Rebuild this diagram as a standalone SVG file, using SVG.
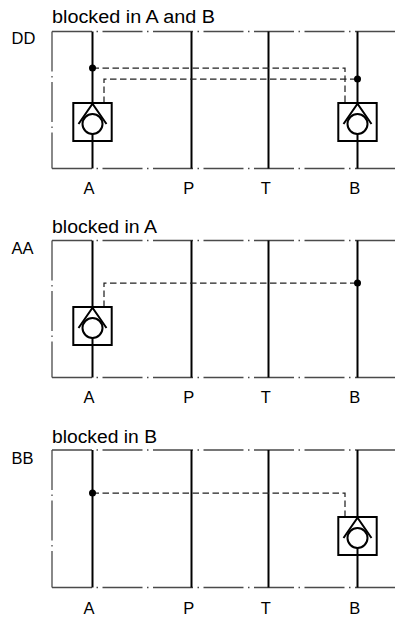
<svg xmlns="http://www.w3.org/2000/svg" xmlns:xlink="http://www.w3.org/1999/xlink" width="398" height="617" viewBox="0 0 398 617">
<style>
.frame{fill:none;stroke:#4a4a4a;stroke-width:1.3;stroke-dasharray:40 4.5 1.5 4.5}
.port{fill:none;stroke:#000;stroke-width:2}
.pilot{fill:none;stroke:#222;stroke-width:1.25;stroke-dasharray:6.5 3.5}
.dot{fill:#000}
.t{font-family:"Liberation Sans",Arial,Helvetica,sans-serif;fill:#000}
.title{font-size:18px}
.lab{font-size:16.5px;text-anchor:middle}
.side{font-size:16.5px}
</style>
<defs>
<g id="valve">
<rect x="-19.2" y="0" width="38.4" height="38" fill="#fff" stroke="#000" stroke-width="2"/>
<path d="M-14 21 L0 0.8 L14 21" fill="none" stroke="#000" stroke-width="2"/>
<circle cx="0" cy="21" r="10" fill="none" stroke="#000" stroke-width="2"/>
<line x1="0" y1="31" x2="0" y2="38" stroke="#000" stroke-width="2"/>
</g>
</defs>
<rect width="398" height="617" fill="#fff"/>

<!-- Section DD -->
<g id="section-DD">
<text class="t title" x="52" y="22.5" textLength="163" lengthAdjust="spacingAndGlyphs">blocked in A and B</text>
<text class="t side" x="11.5" y="44.3">DD</text>
<g id="frame-DD">
<line class="frame" x1="52" y1="31.5" x2="52" y2="168.5"/>
<line class="frame" x1="52" y1="31.5" x2="398" y2="31.5"/>
<line class="frame" x1="52" y1="168.5" x2="398" y2="168.5"/>
</g>
<g id="ports-DD">
<line class="port" x1="92.5" y1="31.5" x2="92.5" y2="168.5"/>
<line class="port" x1="191.5" y1="31.5" x2="191.5" y2="168.5"/>
<line class="port" x1="268.5" y1="31.5" x2="268.5" y2="168.5"/>
<line class="port" x1="357.5" y1="31.5" x2="357.5" y2="168.5"/>
</g>
<g id="connectors-DD">
<path class="pilot" d="M92.5 68 H345 V103"/>
<path class="pilot" d="M104 103 V79 H357.5"/>
<circle class="dot" cx="92.5" cy="68" r="3.5"/>
<circle class="dot" cx="357.5" cy="79" r="3.5"/>
</g>
<g id="valve-DD-A"><use xlink:href="#valve" href="#valve" x="92.5" y="103"/></g>
<g id="valve-DD-B"><use xlink:href="#valve" href="#valve" x="357.5" y="103"/></g>
<g id="labels-DD">
<text class="t lab" x="89" y="193.5">A</text>
<text class="t lab" x="188.7" y="193.5">P</text>
<text class="t lab" x="265.8" y="193.5">T</text>
<text class="t lab" x="354.7" y="193.5">B</text>
</g>
</g>

<!-- Section AA -->
<g id="section-AA">
<text class="t title" x="52" y="233" textLength="105" lengthAdjust="spacingAndGlyphs">blocked in A</text>
<text class="t side" x="11.5" y="254.3">AA</text>
<g id="frame-AA">
<line class="frame" x1="52" y1="240.5" x2="52" y2="377.5"/>
<line class="frame" x1="52" y1="240.5" x2="398" y2="240.5"/>
<line class="frame" x1="52" y1="377.5" x2="398" y2="377.5"/>
</g>
<g id="ports-AA">
<line class="port" x1="92.5" y1="240.5" x2="92.5" y2="377.5"/>
<line class="port" x1="191.5" y1="240.5" x2="191.5" y2="377.5"/>
<line class="port" x1="268.5" y1="240.5" x2="268.5" y2="377.5"/>
<line class="port" x1="357.5" y1="240.5" x2="357.5" y2="377.5"/>
</g>
<g id="connectors-AA">
<path class="pilot" d="M104 307 V283 H357.5"/>
<circle class="dot" cx="357.5" cy="283" r="3.5"/>
</g>
<g id="valve-AA-A"><use xlink:href="#valve" href="#valve" x="92.5" y="307"/></g>
<g id="labels-AA">
<text class="t lab" x="89" y="402.5">A</text>
<text class="t lab" x="188.7" y="402.5">P</text>
<text class="t lab" x="265.8" y="402.5">T</text>
<text class="t lab" x="354.7" y="402.5">B</text>
</g>
</g>

<!-- Section BB -->
<g id="section-BB">
<text class="t title" x="52" y="443.3" textLength="105" lengthAdjust="spacingAndGlyphs">blocked in B</text>
<text class="t side" x="11.5" y="464.3">BB</text>
<g id="frame-BB">
<line class="frame" x1="52" y1="450" x2="52" y2="587.5"/>
<line class="frame" x1="52" y1="450" x2="398" y2="450"/>
<line class="frame" x1="52" y1="587.5" x2="398" y2="587.5"/>
</g>
<g id="ports-BB">
<line class="port" x1="92.5" y1="450" x2="92.5" y2="587.5"/>
<line class="port" x1="191.5" y1="450" x2="191.5" y2="587.5"/>
<line class="port" x1="268.5" y1="450" x2="268.5" y2="587.5"/>
<line class="port" x1="357.5" y1="450" x2="357.5" y2="587.5"/>
</g>
<g id="connectors-BB">
<path class="pilot" d="M92.5 493 H345 V517"/>
<circle class="dot" cx="92.5" cy="493" r="3.5"/>
</g>
<g id="valve-BB-B"><use xlink:href="#valve" href="#valve" x="357.5" y="517"/></g>
<g id="labels-BB">
<text class="t lab" x="89" y="613.5">A</text>
<text class="t lab" x="188.7" y="613.5">P</text>
<text class="t lab" x="265.8" y="613.5">T</text>
<text class="t lab" x="354.7" y="613.5">B</text>
</g>
</g>
</svg>
